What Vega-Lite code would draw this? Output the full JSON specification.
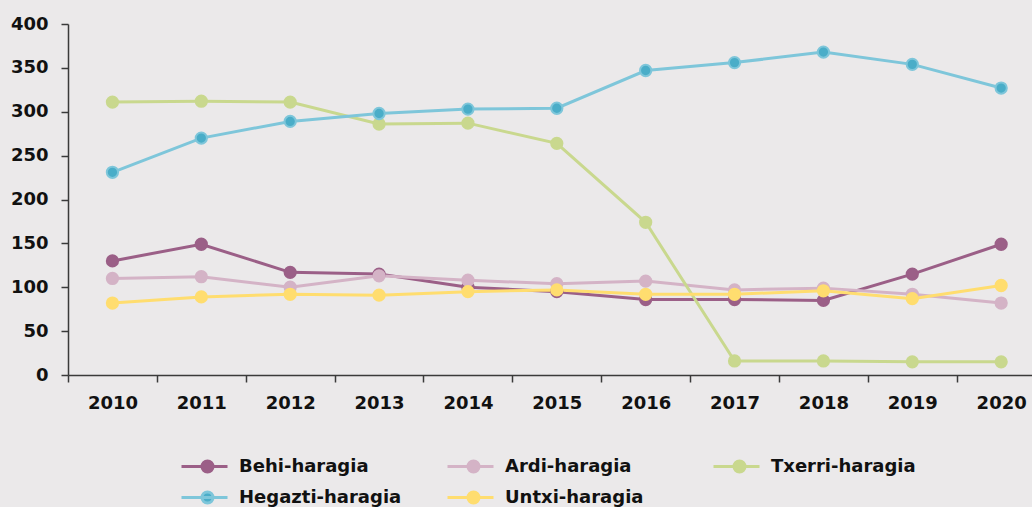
{
  "$schema": "https://vega.github.io/schema/vega-lite/v6.json",
  "width": 964,
  "height": 351,
  "autosize": "none",
  "padding": {"left": 68, "top": 24, "right": 0, "bottom": 132},
  "background": "#ebe9ea",
  "config": {
    "view": {"stroke": null},
    "axis": {
      "domainColor": "#3a3a3a",
      "tickColor": "#3a3a3a",
      "domainWidth": 1.5,
      "tickWidth": 1.5,
      "tickSize": 7,
      "labelFont": "DejaVu Sans",
      "labelFontWeight": "bold",
      "labelFontSize": 18,
      "labelColor": "#111111",
      "labelPadding": 12,
      "grid": false,
      "title": null
    },
    "legend": {
      "symbolType": "M-2.6,0H2.0M-0.55,0A0.55,0.55,0,1,0,0.55,0A0.55,0.55,0,1,0,-0.55,0Z",
      "symbolSize": 400,
      "symbolStrokeWidth": 3,
      "labelLimit": 400
    }
  },
  "data": {
    "values": [
      {"year": "2010", "series": "Behi-haragia", "value": 130},
      {"year": "2011", "series": "Behi-haragia", "value": 149},
      {"year": "2012", "series": "Behi-haragia", "value": 117},
      {"year": "2013", "series": "Behi-haragia", "value": 115},
      {"year": "2014", "series": "Behi-haragia", "value": 100},
      {"year": "2015", "series": "Behi-haragia", "value": 95},
      {"year": "2016", "series": "Behi-haragia", "value": 86},
      {"year": "2017", "series": "Behi-haragia", "value": 86},
      {"year": "2018", "series": "Behi-haragia", "value": 85},
      {"year": "2019", "series": "Behi-haragia", "value": 115},
      {"year": "2020", "series": "Behi-haragia", "value": 149},
      {"year": "2010", "series": "Ardi-haragia", "value": 110},
      {"year": "2011", "series": "Ardi-haragia", "value": 112},
      {"year": "2012", "series": "Ardi-haragia", "value": 100},
      {"year": "2013", "series": "Ardi-haragia", "value": 113},
      {"year": "2014", "series": "Ardi-haragia", "value": 108},
      {"year": "2015", "series": "Ardi-haragia", "value": 104},
      {"year": "2016", "series": "Ardi-haragia", "value": 107},
      {"year": "2017", "series": "Ardi-haragia", "value": 97},
      {"year": "2018", "series": "Ardi-haragia", "value": 99},
      {"year": "2019", "series": "Ardi-haragia", "value": 92},
      {"year": "2020", "series": "Ardi-haragia", "value": 82},
      {"year": "2010", "series": "Txerri-haragia", "value": 311},
      {"year": "2011", "series": "Txerri-haragia", "value": 312},
      {"year": "2012", "series": "Txerri-haragia", "value": 311},
      {"year": "2013", "series": "Txerri-haragia", "value": 286},
      {"year": "2014", "series": "Txerri-haragia", "value": 287},
      {"year": "2015", "series": "Txerri-haragia", "value": 264},
      {"year": "2016", "series": "Txerri-haragia", "value": 174},
      {"year": "2017", "series": "Txerri-haragia", "value": 16},
      {"year": "2018", "series": "Txerri-haragia", "value": 16},
      {"year": "2019", "series": "Txerri-haragia", "value": 15},
      {"year": "2020", "series": "Txerri-haragia", "value": 15},
      {"year": "2010", "series": "Hegazti-haragia", "value": 231},
      {"year": "2011", "series": "Hegazti-haragia", "value": 270},
      {"year": "2012", "series": "Hegazti-haragia", "value": 289},
      {"year": "2013", "series": "Hegazti-haragia", "value": 298},
      {"year": "2014", "series": "Hegazti-haragia", "value": 303},
      {"year": "2015", "series": "Hegazti-haragia", "value": 304},
      {"year": "2016", "series": "Hegazti-haragia", "value": 347},
      {"year": "2017", "series": "Hegazti-haragia", "value": 356},
      {"year": "2018", "series": "Hegazti-haragia", "value": 368},
      {"year": "2019", "series": "Hegazti-haragia", "value": 354},
      {"year": "2020", "series": "Hegazti-haragia", "value": 327},
      {"year": "2010", "series": "Untxi-haragia", "value": 82},
      {"year": "2011", "series": "Untxi-haragia", "value": 89},
      {"year": "2012", "series": "Untxi-haragia", "value": 92},
      {"year": "2013", "series": "Untxi-haragia", "value": 91},
      {"year": "2014", "series": "Untxi-haragia", "value": 95},
      {"year": "2015", "series": "Untxi-haragia", "value": 97},
      {"year": "2016", "series": "Untxi-haragia", "value": 92},
      {"year": "2017", "series": "Untxi-haragia", "value": 92},
      {"year": "2018", "series": "Untxi-haragia", "value": 96},
      {"year": "2019", "series": "Untxi-haragia", "value": 87},
      {"year": "2020", "series": "Untxi-haragia", "value": 102}
    ]
  },
  "encoding": {
    "x": {
      "field": "year",
      "type": "ordinal",
      "scale": {"type": "band", "paddingInner": 0, "paddingOuter": 0, "range": [0, 977.6]},
      "axis": {"labelAngle": 0, "tickBand": "extent", "title": null}
    },
    "y": {
      "field": "value",
      "type": "quantitative",
      "scale": {"domain": [0, 400], "nice": false, "zero": true},
      "axis": {"values": [0, 50, 100, 150, 200, 250, 300, 350, 400], "title": null, "labelPadding": 13}
    }
  },
  "layer": [
    {
      "mark": {"type": "line", "strokeWidth": 3},
      "encoding": {
        "stroke": {
          "field": "series",
          "type": "nominal",
          "scale": {
            "domain": ["Behi-haragia", "Ardi-haragia", "Txerri-haragia", "Hegazti-haragia", "Untxi-haragia"],
            "range": ["#9b5f87", "#d4b3c6", "#c9d88e", "#7ec6da", "#ffdd6f"]
          },
          "legend": {
            "orient": "none",
            "legendX": 128,
            "legendY": 431,
            "direction": "horizontal",
            "columns": 3,
            "gridAlign": "all",
            "title": null,
            "labelFont": "DejaVu Sans",
            "labelFontWeight": "bold",
            "labelFontSize": 18,
            "labelColor": "#111111",
            "labelLimit": 400,
            "labelOffset": 20,
            "rowPadding": 8,
            "columnPadding": 39,
            "symbolType": "M-2.6,0H2.0M-0.55,0A0.55,0.55,0,1,0,0.55,0A0.55,0.55,0,1,0,-0.55,0Z",
            "symbolSize": 400,
            "symbolStrokeWidth": 3
          }
        }
      }
    },
    {
      "mark": {"type": "circle", "size": 127, "strokeWidth": 2, "opacity": 1},
      "encoding": {
        "stroke": {"field": "series", "type": "nominal"},
        "fill": {
          "field": "series",
          "type": "nominal",
          "scale": {
            "domain": ["Behi-haragia", "Ardi-haragia", "Txerri-haragia", "Hegazti-haragia", "Untxi-haragia"],
            "range": ["#9b5f87", "#d4b3c6", "#c9d88e", "#4aadc8", "#ffdd6f"]
          }
        }
      }
    }
  ]
}
